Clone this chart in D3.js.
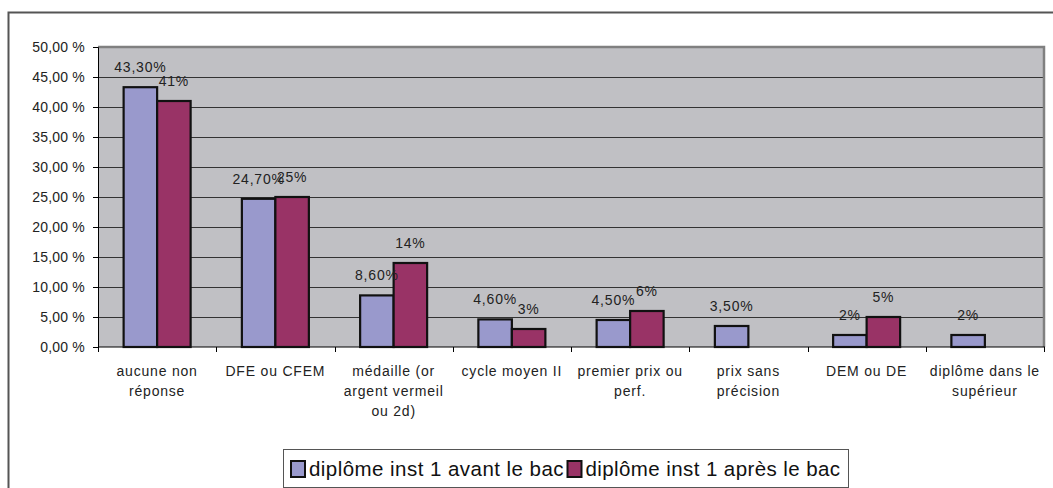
<!DOCTYPE html>
<html>
<head>
<meta charset="utf-8">
<script src="https://cdn.jsdelivr.net/npm/d3@7"></script>
<style>
  html, body { margin: 0; padding: 0; background: #fff; }
  svg { display: block; font-family: "Liberation Sans", Arial, sans-serif; }
</style>
</head>
<body>
<svg id="chart" width="1053" height="488"></svg>
<script>
// Categories (line breaks mark where the axis label wraps)
const categories = [
  "aucune non\nréponse",
  "DFE ou CFEM",
  "médaille (or\nargent vermeil\nou 2d)",
  "cycle moyen II",
  "premier prix ou\nperf.",
  "prix sans\nprécision",
  "DEM ou DE",
  "diplôme dans le\nsupérieur"
];
const seriesNames = ["diplôme inst 1 avant le bac", "diplôme inst 1 après le bac"];
// Percentages per category; null = no bar
const avantBac = [43.3, 24.7, 8.6, 4.6, 4.5, 3.5, 2, 2];
const apresBac = [41, 25, 14, 3, 6, null, 5, null];
const yTicks = [0, 5, 10, 15, 20, 25, 30, 35, 40, 45, 50];
const seriesColors = ["#9999CC", "#993366"];

const svg = d3.select("#chart");
const plot = { left: 98, right: 1044, top: 47, bottom: 347 };

// Outer chart frame
svg.append("path")
  .attr("d", `M8.5,488 V12.5 H1053`)
  .attr("fill", "none").attr("stroke", "#555").attr("stroke-width", 2);

const x = d3.scaleBand().domain(d3.range(categories.length))
  .range([plot.left, plot.right]).padding(0);
const xs = d3.scaleBand().domain([0, 1])
  .range([0, x.bandwidth()]).paddingInner(0).paddingOuter(0.765);
const y = d3.scaleLinear().domain([0, 50]).range([plot.bottom, plot.top]);

// Plot background
svg.append("rect")
  .attr("x", plot.left).attr("y", plot.top)
  .attr("width", plot.right - plot.left).attr("height", plot.bottom - plot.top)
  .attr("fill", "#C0C0C4");

// Gridlines
svg.append("g").selectAll("line")
  .data(yTicks.filter(t => t > 0 && t < 50)).join("line")
  .attr("x1", plot.left).attr("x2", plot.right)
  .attr("y1", d => Math.round(y(d)) + 0.5).attr("y2", d => Math.round(y(d)) + 0.5)
  .attr("stroke", "#333").attr("stroke-width", 1.2);

// Plot area border (top and right)
svg.append("path")
  .attr("d", `M${plot.left},${plot.top} H${plot.right} V${plot.bottom}`)
  .attr("fill", "none").attr("stroke", "#808080").attr("stroke-width", 2.5);

const pct = v => v.toFixed(2).replace(".", ",") + " %";

// Y axis
const yAxis = d3.axisLeft(y).tickValues(yTicks).tickFormat(pct).tickSize(5).tickPadding(8);
const gy = svg.append("g").attr("transform", `translate(${plot.left},0)`).call(yAxis);
gy.select(".domain").attr("stroke", "#000").attr("stroke-width", 1);
gy.selectAll(".tick line").attr("stroke", "#000");
gy.selectAll(".tick text").attr("font-size", 14).attr("fill", "#222")
  .attr("font-family", '"Liberation Sans", Arial, sans-serif')
  .attr("letter-spacing", 0.2);

// X axis baseline with category separators
const gx = svg.append("g").attr("transform", `translate(0,${plot.bottom})`);
gx.append("line").attr("x1", plot.left).attr("x2", plot.right + 1)
  .attr("stroke", "#000").attr("stroke-width", 1);
gx.selectAll("line.sep").data(d3.range(categories.length + 1)).join("line")
  .attr("class", "sep")
  .attr("x1", i => Math.round(i < categories.length ? x(i) : plot.right) + 0.5)
  .attr("x2", i => Math.round(i < categories.length ? x(i) : plot.right) + 0.5)
  .attr("y1", 0).attr("y2", 5).attr("stroke", "#000");

// Category labels
const catText = gx.selectAll("text.cat").data(categories).join("text")
  .attr("class", "cat")
  .attr("x", (d, i) => x(i) + x.bandwidth() / 2)
  .attr("y", 29)
  .attr("text-anchor", "middle").attr("font-size", 14).attr("fill", "#222")
  .attr("letter-spacing", 0.8);
catText.selectAll("tspan").data(d => d.split("\n")).join("tspan")
  .attr("x", function () { return this.parentNode.getAttribute("x"); })
  .attr("dy", (d, j) => j === 0 ? 0 : 20)
  .text(d => d);

// Bars
const rows = categories.map((c, i) => [avantBac[i], apresBac[i]]);
const fmtLabel = v => Number.isInteger(v) ? v + "%" : v.toFixed(2).replace(".", ",") + "%";

const groups = svg.append("g").selectAll("g").data(rows).join("g")
  .attr("transform", (d, i) => `translate(${x(i)},0)`);
groups.selectAll("rect")
  .data(d => d.map((v, s) => ({ v, s })).filter(o => o.v != null))
  .join("rect")
  .attr("x", o => xs(o.s))
  .attr("width", xs.bandwidth())
  .attr("y", o => y(o.v))
  .attr("height", o => y(0) - y(o.v))
  .attr("fill", o => seriesColors[o.s])
  .attr("stroke", "#111").attr("stroke-width", 2.2);

// Value labels
groups.selectAll("text")
  .data(d => d.map((v, s) => ({ v, s })).filter(o => o.v != null))
  .join("text")
  .attr("x", o => xs(o.s) + xs.bandwidth() / 2)
  .attr("y", o => y(o.v) - 15)
  .attr("text-anchor", "middle").attr("font-size", 14).attr("fill", "#222")
  .attr("letter-spacing", 0.8)
  .text(o => fmtLabel(o.v));

// Legend
const legend = { left: 283, right: 848, top: 449, bottom: 487 };
const lg = svg.append("g");
lg.append("rect").attr("x", legend.left + 0.5).attr("y", legend.top + 0.5)
  .attr("width", legend.right - legend.left).attr("height", legend.bottom - legend.top)
  .attr("fill", "#fff").attr("stroke", "#555").attr("stroke-width", 1);
const symW = 14, symGap = 4, itemGap = 4;
const textLen = (legend.right - legend.left - 2 * 8 - 2 * (symW + symGap) - itemGap) / 2;
seriesNames.forEach((name, s) => {
  const x0 = legend.left + 8 + s * (symW + symGap + textLen + itemGap);
  lg.append("rect").attr("x", x0).attr("y", 461).attr("width", symW).attr("height", 16)
    .attr("fill", seriesColors[s]).attr("stroke", "#111").attr("stroke-width", 2);
  lg.append("text").attr("x", x0 + symW + symGap).attr("y", 476)
    .attr("font-size", 20.5).attr("fill", "#111")
    .attr("textLength", textLen).attr("lengthAdjust", "spacing")
    .text(name);
});
</script>
</body>
</html>
